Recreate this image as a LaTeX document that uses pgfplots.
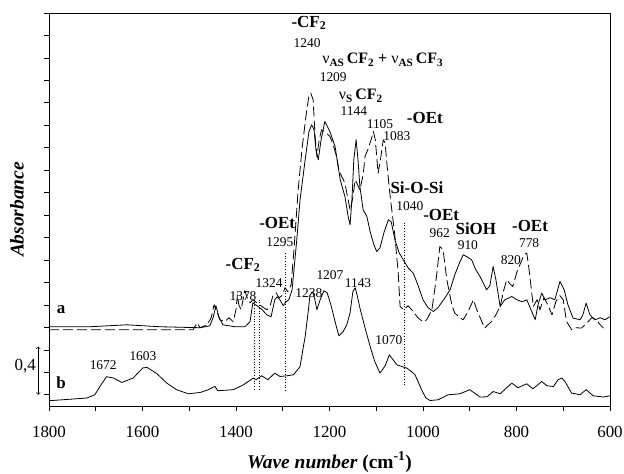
\documentclass[border=0pt]{standalone}
\usepackage{fontspec}
\setmainfont{Liberation Serif}
\usepackage{pgfplots}
\pgfplotsset{compat=1.18}
\newcommand\lb{\fontsize{17}{20}\selectfont\bfseries}
\newcommand\nm{\fontsize{13.5}{15}\selectfont}
\begin{document}
\begin{tikzpicture}
\path[use as bounding box] (-49bp,-68bp) rectangle (575bp,406bp);
\begin{axis}[
  at={(0,0)}, anchor=south west,
  width=561bp, height=393bp, scale only axis,
  x dir=reverse, xmin=600, xmax=1800, ymin=-0.1, ymax=3.4,
  xtick={600,800,1000,1200,1400,1600,1800},
  minor xtick={700,900,1100,1300,1500,1700},
  ytick={0,0.2,0.4,0.6,0.8,1.0,1.2,1.4,1.6,1.8,2.0,2.2,2.4,2.6,2.8,3.0,3.2,3.4},
  yticklabels={},
  tick align=outside, xtick pos=bottom, ytick pos=left,
  major tick length=5bp, minor tick length=5bp,
  tick style={black, line width=0.7bp},
  axis line style={line width=0.8bp},
  /pgf/number format/assume math mode=true,
  /pgf/number format/set thousands separator={},
  xticklabel style={font=\fontsize{17}{20}\selectfont, yshift=-12bp},
  xlabel={\textbf{\textit{Wave number}} \textbf{(cm\textsuperscript{-1})}},
  xlabel style={at={(axis description cs:0.5,0)}, anchor=center, yshift=-56bp, font=\fontsize{19.5}{22}\selectfont},
  ylabel={\textbf{\textit{Absorbance}}},
  ylabel style={at={(axis description cs:0,0.5)}, anchor=center, yshift=32bp, font=\fontsize{19.5}{22}\selectfont},
  clip=false,
]
% curve b
\addplot[black, line width=0.8bp, line join=round] coordinates {
(1800,-0.053) (1719,-0.029) (1702,0.000) (1691,0.074) (1677,0.161) (1663,0.150)
(1644,0.110) (1620,0.149) (1599,0.240) (1590,0.243) (1570,0.191) (1548,0.104)
(1527,0.045) (1502,0.009) (1477,0.020) (1459,0.045) (1451,0.062) (1445,0.074)
(1439,0.036) (1406,0.045) (1384,0.089) (1363,0.149) (1357,0.134) (1345,0.169)
(1332,0.134) (1317,0.193) (1306,0.163) (1291,0.169) (1277,0.178) (1263,0.250)
(1257,0.401) (1252,0.519) (1245,0.757) (1242,0.882) (1237,0.917) (1233,0.882)
(1227,0.757) (1220,0.846) (1212,0.926) (1205,0.908) (1197,0.801) (1188,0.650)
(1180,0.525) (1171,0.561) (1163,0.623) (1156,0.730) (1150,0.917) (1145,0.953)
(1141,0.890) (1135,0.775) (1124,0.597) (1113,0.430) (1103,0.294) (1092,0.193)
(1081,0.258) (1072,0.356) (1064,0.312) (1056,0.267) (1035,0.238) (1024,0.205)
(1017,0.178) (1003,0.045) (994,-0.027) (985,-0.051) (968,-0.045) (946,0.000)
(921,0.009) (900,0.045) (878,-0.020) (863,-0.018) (850,0.029) (835,0.009)
(810,0.104) (797,0.062) (778,0.098) (765,0.053) (746,0.118) (735,0.080)
(721,0.074) (711,0.134) (703,0.149) (696,0.116) (682,0.015) (664,0.000)
(651,0.045) (636,-0.009) (614,-0.020) (600,-0.009)
};
% curve a, solid
\addplot[black, line width=0.8bp, line join=round] coordinates {
(1800,0.606) (1712,0.606) (1633,0.623) (1563,0.606) (1477,0.597) (1456,0.614)
(1449,0.686) (1443,0.793) (1436,0.686) (1428,0.623) (1402,0.606) (1381,0.606)
(1370,0.650) (1364,0.819) (1355,0.793) (1344,0.757) (1334,0.712) (1325,0.695)
(1317,0.846) (1312,0.873) (1306,0.846) (1299,0.793) (1293,0.828) (1287,0.846)
(1280,0.935) (1276,1.113) (1270,1.380) (1263,1.736) (1252,2.093) (1244,2.342)
(1238,2.404) (1233,2.360) (1229,2.182) (1224,2.093) (1218,2.271) (1210,2.434)
(1199,2.343) (1188,2.210) (1182,2.048) (1177,1.915) (1171,1.825) (1167,1.766)
(1160,1.586) (1156,1.514) (1152,1.736) (1148,2.093) (1143,2.271) (1139,2.093)
(1135,1.855) (1128,1.647) (1120,1.588) (1113,1.451) (1105,1.336) (1099,1.276)
(1092,1.309) (1083,1.451) (1074,1.558) (1068,1.541) (1060,1.380) (1051,1.264)
(1042,1.202) (1032,1.131) (1021,1.084) (1011,0.980) (1000,0.846) (989,0.775)
(978,0.742) (968,0.775) (953,0.864) (942,0.935) (932,1.069) (921,1.184)
(914,1.247) (906,1.229) (896,1.202) (887,1.113) (878,1.053) (864,0.935)
(857,0.971) (850,1.142) (844,1.024) (835,0.786) (825,0.846) (810,0.875)
(799,0.846) (788,0.828) (778,0.846) (769,0.757) (760,0.668) (754,0.801)
(746,0.906) (739,0.846) (728,0.864) (718,0.846) (707,1.009) (698,0.935)
(690,0.801) (679,0.683) (664,0.668) (658,0.712) (651,0.817) (643,0.712)
(632,0.668) (621,0.686) (611,0.668) (600,0.695)
};
% curve a, dashed
\addplot[black, line width=0.8bp, line join=round, dash pattern=on 10bp off 4bp] coordinates {
(1800,0.579) (1584,0.579) (1492,0.579) (1483,0.641) (1477,0.597) (1462,0.623)
(1453,0.686) (1447,0.801) (1441,0.739) (1434,0.668) (1424,0.650) (1415,0.686)
(1406,0.650) (1400,0.757) (1397,0.890) (1394,0.801) (1389,0.757) (1385,0.846)
(1381,0.926) (1376,0.864) (1370,0.819) (1364,0.846) (1355,0.819) (1344,0.784)
(1334,0.757) (1327,0.793) (1321,0.882) (1314,0.908) (1308,0.864) (1302,0.882)
(1295,0.953) (1289,0.917) (1282,0.980) (1276,1.291) (1267,1.825) (1259,2.182)
(1250,2.493) (1244,2.663) (1240,2.687) (1235,2.627) (1231,2.315) (1227,2.122)
(1222,2.271) (1217,2.360) (1207,2.333) (1199,2.300) (1192,2.226) (1185,2.122)
(1180,2.004) (1174,1.944) (1170,1.915) (1166,1.861) (1160,1.736) (1156,1.647)
(1151,1.736) (1145,1.915) (1140,1.870) (1135,1.825) (1128,1.959) (1124,2.122)
(1118,2.182) (1111,2.271) (1106,2.345) (1102,2.271) (1096,1.972) (1091,2.093)
(1085,2.271) (1081,2.244) (1078,2.093) (1071,1.796) (1060,1.410) (1053,1.084)
(1049,0.786) (1041,0.757) (1032,0.793) (1024,0.757) (1011,0.686) (1000,0.650)
(992,0.668) (981,0.757) (972,1.024) (964,1.321) (957,1.291) (949,1.024)
(938,0.793) (932,0.728) (921,0.686) (914,0.668) (904,0.739) (892,0.846)
(885,0.757) (874,0.650) (868,0.594) (861,0.623) (853,0.653) (844,0.712)
(835,0.786) (827,0.935) (821,1.024) (814,0.988) (808,0.964) (799,1.095)
(790,1.184) (784,1.247) (778,1.262) (773,1.113) (764,0.786) (756,0.846)
(750,0.757) (741,0.864) (733,0.801) (724,0.712) (716,0.828) (707,0.882)
(700,0.846) (693,0.653) (682,0.579) (673,0.597) (661,0.594) (651,0.632)
(639,0.686) (629,0.668) (621,0.623) (614,0.594)
};
% dotted guide lines
\addplot[black, dotted, line width=0.7bp] coordinates {(1361,0.846) (1361,0.036)};
\addplot[black, dotted, line width=0.7bp] coordinates {(1349,0.846) (1349,0.036)};
\addplot[black, dotted, line width=0.7bp] coordinates {(1295,1.264) (1295,0.018)};
\addplot[black, dotted, line width=0.7bp] coordinates {(1040,1.532) (1040,0.071)};
% scale arrow
\draw[<->, line width=0.7bp] (axis cs:1823,0) -- (axis cs:1823,0.43);
\node[font=\fontsize{17}{20}\selectfont] at (axis cs:1851,0.258) {0,4};
% annotations
\node[font=\lb] at (axis cs:1774,0.757) {a};
\node[font=\lb] at (axis cs:1774,0.107) {b};
\node[font=\lb] at (axis cs:1244,3.313) {-CF\textsubscript{2}};
\node[font=\nm] at (axis cs:1248,3.134) {1240};
\node[font=\fontsize{16}{19}\selectfont\bfseries] at (axis cs:1086,2.983) {\mdseries ν\textsubscript{\bfseries AS}\kern2.5bp\bfseries CF\textsubscript{2} + \mdseries ν\textsubscript{\bfseries AS}\kern2.5bp\bfseries CF\textsubscript{3}};
\node[font=\nm] at (axis cs:1192,2.828) {1209};
\node[font=\fontsize{16}{19}\selectfont\bfseries] at (axis cs:1133,2.664) {\mdseries ν\textsubscript{\bfseries S}\kern2.5bp\bfseries CF\textsubscript{2}};
\node[font=\nm] at (axis cs:1148,2.530) {1144};
\node[font=\nm] at (axis cs:1092,2.413) {1105};
\node[font=\lb] at (axis cs:996,2.467) {-OEt};
\node[font=\nm] at (axis cs:1056,2.306) {1083};
\node[font=\lb] at (axis cs:1013,1.843) {Si-O-Si};
\node[font=\nm] at (axis cs:1028,1.683) {1040};
\node[font=\lb] at (axis cs:961,1.600) {-OEt};
\node[font=\nm] at (axis cs:964,1.440) {962};
\node[font=\lb] at (axis cs:887,1.480) {SiOH};
\node[font=\nm] at (axis cs:904,1.330) {910};
\node[font=\lb] at (axis cs:771,1.505) {-OEt};
\node[font=\nm] at (axis cs:773,1.355) {778};
\node[font=\nm] at (axis cs:812,1.202) {820};
\node[font=\lb] at (axis cs:1385,1.158) {-CF\textsubscript{2}};
\node[font=\nm] at (axis cs:1385,0.882) {1378};
\node[font=\nm] at (axis cs:1329,0.997) {1324};
\node[font=\lb] at (axis cs:1312,1.532) {-OEt};
\node[font=\nm] at (axis cs:1306,1.362) {1295};
\node[font=\nm] at (axis cs:1244,0.908) {1238};
\node[font=\nm] at (axis cs:1199,1.069) {1207};
\node[font=\nm] at (axis cs:1139,0.997) {1143};
\node[font=\nm] at (axis cs:1073,0.490) {1070};
\node[font=\nm] at (axis cs:1684,0.267) {1672};
\node[font=\nm] at (axis cs:1599,0.347) {1603};
\end{axis}
\end{tikzpicture}
\end{document}
